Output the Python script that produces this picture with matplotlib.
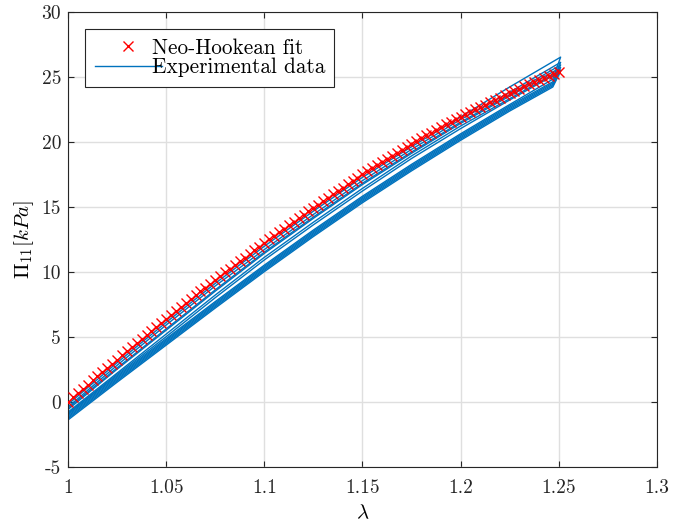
import numpy as np
import matplotlib
matplotlib.use("Agg")
import matplotlib.pyplot as plt
from matplotlib.ticker import FuncFormatter

plt.rcParams['font.family'] = 'serif'
plt.rcParams['font.serif'] = ['cmr10', 'DejaVu Serif']
plt.rcParams['mathtext.fontset'] = 'cm'
plt.rcParams['axes.unicode_minus'] = False

# neo-Hookean fit, sampled along the stretch
lam_fit = np.linspace(1.0, 1.25, 101)
P_fit = [
    0.00, 0.33, 0.66, 0.99, 1.31, 1.64, 1.96, 2.28, 2.60, 2.92,
    3.24, 3.56, 3.88, 4.19, 4.51, 4.82, 5.13, 5.45, 5.76, 6.07,
    6.38, 6.70, 7.00, 7.30, 7.60, 7.89, 8.19, 8.48, 8.78, 9.07,
    9.36, 9.65, 9.94, 10.23, 10.52, 10.80, 11.09, 11.37, 11.65, 11.93,
    12.20, 12.48, 12.75, 13.02, 13.29, 13.56, 13.83, 14.10, 14.37, 14.63,
    14.90, 15.16, 15.42, 15.68, 15.94, 16.20, 16.46, 16.72, 16.97, 17.23,
    17.48, 17.74, 17.98, 18.22, 18.46, 18.69, 18.92, 19.15, 19.38, 19.61,
    19.83, 20.05, 20.27, 20.49, 20.70, 20.91, 21.12, 21.32, 21.52, 21.72,
    21.91, 22.10, 22.29, 22.48, 22.67, 22.85, 23.03, 23.21, 23.39, 23.57,
    23.74, 23.91, 24.08, 24.25, 24.42, 24.58, 24.74, 24.90, 25.06, 25.22,
    25.38,
]

# measured cycles (kPa): loading branch on lam_up, unloading branch on lam_down
lam_up = [1.000, 1.025, 1.050, 1.075, 1.100, 1.125, 1.150, 1.175, 1.200, 1.225, 1.251]
lam_down = [1.000, 1.025, 1.050, 1.075, 1.100, 1.125, 1.150, 1.175, 1.200, 1.225, 1.247, 1.251]

load_1 = [-0.2, 3.0, 6.1, 9.1, 11.95, 14.65, 17.25, 19.6, 21.9, 24.2, 26.5]
unload_1 = [-0.9, 2.0, 4.85, 7.7, 10.5, 13.2, 15.8, 18.25, 20.6, 22.85, 24.8, 26.5]
load_2 = [-0.4, 2.8, 5.9, 8.9, 11.7, 14.4, 17.0, 19.4, 21.7, 23.8, 26.1]
unload_2 = [-1.0, 1.9, 4.75, 7.6, 10.4, 13.1, 15.7, 18.15, 20.5, 22.75, 24.6, 26.1]
load_3 = [-0.5, 2.6, 5.6, 8.6, 11.5, 14.2, 16.8, 19.2, 21.5, 23.6, 25.9]
unload_3 = [-1.1, 1.8, 4.65, 7.5, 10.3, 13.0, 15.6, 18.05, 20.4, 22.65, 24.5, 25.9]
load_4 = [-0.6, 2.5, 5.5, 8.5, 11.4, 14.1, 16.7, 19.1, 21.4, 23.5, 25.7]
unload_4 = [-1.2, 1.7, 4.55, 7.4, 10.2, 12.9, 15.5, 17.95, 20.3, 22.55, 24.4, 25.7]
load_5 = [-0.8, 2.2, 5.2, 8.2, 11.1, 13.8, 16.4, 18.9, 21.2, 23.3, 25.5]
unload_5 = [-1.3, 1.6, 4.45, 7.3, 10.1, 12.8, 15.4, 17.85, 20.2, 22.45, 24.3, 25.5]
load_6 = [-0.9, 2.1, 5.0, 8.0, 10.9, 13.6, 16.2, 18.7, 21.0, 23.2, 25.4]
unload_6 = [-1.4, 1.5, 4.35, 7.2, 10.0, 12.7, 15.3, 17.75, 20.1, 22.35, 24.2, 25.4]

cycles = [(load_1, unload_1), (load_2, unload_2), (load_3, unload_3),
          (load_4, unload_4), (load_5, unload_5), (load_6, unload_6)]

fig = plt.figure(figsize=(6.87, 5.28), dpi=100)
ax = fig.add_axes([0.099, 0.116, 0.857, 0.862])

blue = '#0072BD'
for i, (up, down) in enumerate(cycles):
    lam_loop = lam_up + lam_down[::-1]
    P_loop = up + down[::-1]
    ax.plot(lam_loop, P_loop, color=blue, lw=1.0,
            label='Experimental data' if i == 0 else None, zorder=2)

ax.plot(lam_fit, P_fit, 'x', color='#FF0000', ms=7.5, mew=1.0,
        label='Neo-Hookean fit', zorder=3)

ax.set_xlim(1.0, 1.3)
ax.set_ylim(-5, 30)
ax.set_xticks(np.arange(1.0, 1.3001, 0.05))
ax.set_yticks(np.arange(-5, 31, 5))
ax.xaxis.set_major_formatter(FuncFormatter(lambda v, p: f'{v:g}'))
ax.yaxis.set_major_formatter(FuncFormatter(lambda v, p: f'{v:g}'))
ax.tick_params(direction='in', length=4, width=0.8, colors='#262626',
               labelsize=14, top=True, right=True)
ax.tick_params(axis='x', pad=9)
ax.tick_params(axis='y', pad=5)
for s in ax.spines.values():
    s.set_color('#262626')
    s.set_linewidth(0.8)
ax.grid(True, color='#DFDFDF', lw=1.0)
ax.set_axisbelow(True)

ax.set_xlabel(r'$\lambda$', fontsize=15, labelpad=5)
ax.set_ylabel(r'$\Pi_{11}[kPa]$', fontsize=15, labelpad=4)

h, l = ax.get_legend_handles_labels()
leg = ax.legend(h[::-1], l[::-1], loc='upper left', fontsize=15.3,
                fancybox=False, framealpha=1, edgecolor='#262626',
                handlelength=3.15, handletextpad=-0.47, borderpad=0.45,
                labelspacing=0.0, borderaxespad=0.8)
leg.get_frame().set_linewidth(0.8)

fig.savefig('out.png', dpi=100)
